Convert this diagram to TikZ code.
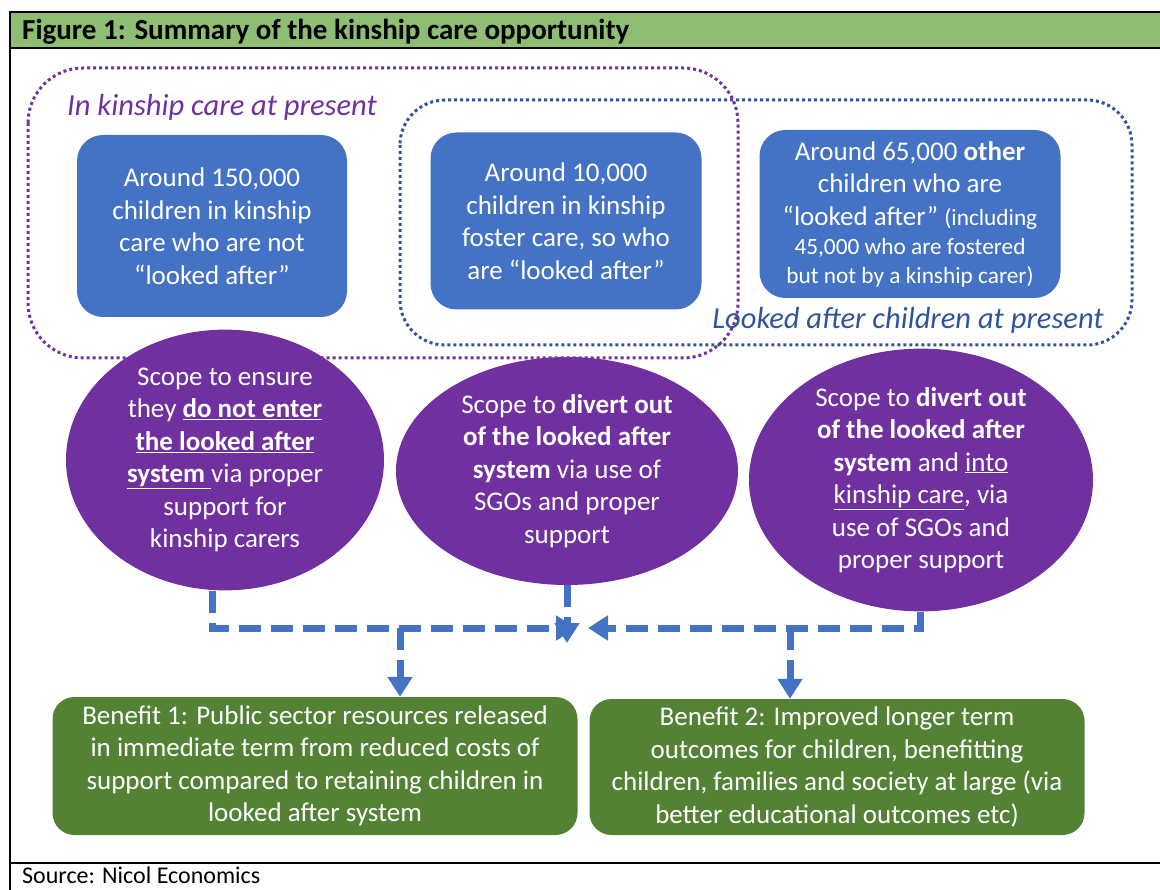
\documentclass[tikz,border=0pt]{standalone}
\usepackage{fontspec}
\setmainfont{Carlito}
\usetikzlibrary{shapes.geometric,arrows.meta}

\definecolor{titlegreen}{RGB}{141,190,116}
\definecolor{boxblue}{RGB}{68,114,196}
\definecolor{darkblue}{RGB}{47,85,151}
\definecolor{scopepurple}{RGB}{112,48,160}
\definecolor{benefitgreen}{RGB}{84,130,53}

\begin{document}
\begin{tikzpicture}[x=1pt, y=-1pt,
  every node/.style = {align=center, text=white, inner sep=0pt,
    font=\fontsize{27}{32.5}\selectfont},
  countbox/.style = {fill=boxblue, rounded corners=26pt},
  scopeoval/.style = {shape=ellipse, fill=scopepurple},
  benefitbox/.style = {fill=benefitgreen, rounded corners=22pt},
  groupframe/.style = {line width=3pt, dash pattern=on 3pt off 3pt,
    rounded corners=#1},
  flow/.style = {draw=boxblue, line width=7pt, dash pattern=on 22pt off 10pt,
    -{Triangle[length=20pt,width=24pt]}}]
  \useasboundingbox (0,0) rectangle (1160,890);

  % table frame
  \fill[titlegreen] (10,12) rectangle (1160,48);
  \draw[line width=2pt] (1160,12) -| (10,890);
  \draw[line width=2pt] (10,48) -- (1160,48);
  \draw[line width=2pt] (10,863) -- (1160,863);
  \node[anchor=base west, text=black, font=\fontsize{29}{32}\selectfont\bfseries]
    (title) at (22,40) {Figure 1: Summary of the kinship care opportunity};
  \node[anchor=base west, text=black, font=\fontsize{24}{28}\selectfont]
    (source) at (22,883) {Source: Nicol Economics};

  % dotted groups
  \draw[groupframe=55pt, scopepurple] (28,68) rectangle (738,358);
  \draw[groupframe=45pt, darkblue] (400,100) rectangle (1132,345);
  \node[text=scopepurple, font=\fontsize{30.5}{34}\selectfont\itshape]
    (kinlabel) at (222,107) {In kinship care at present};
  \node[text=darkblue, font=\fontsize{30.5}{34}\selectfont\itshape]
    (lalabel) at (908,320) {Looked after children at present};

  % children counts
  \node[countbox, minimum width=270pt, minimum height=182pt] (count1) at (212,226)
    {Around 150,000\\ children in kinship\\ care who are not\\ “looked after”};
  \node[countbox, minimum width=271pt, minimum height=177pt] (count2) at (566,221)
    {Around 10,000\\ children in kinship\\ foster care, so who\\ are “looked after”};
  \node[countbox, minimum width=301pt, minimum height=168pt] (count3) at (910,214)
    {Around 65,000 \textbf{other}\\ children who are\\
     “looked after” {\fontsize{23.3}{29}\selectfont(including}\\[-3.5pt]
     {\fontsize{23.3}{29}\selectfont 45,000 who are fostered}\\[-3.5pt]
     {\fontsize{23.3}{29}\selectfont but not by a kinship carer)}};

  % scope
  \node[scopeoval, minimum width=318pt, minimum height=224pt] (scope1) at (225,460)
    {Scope to ensure\\ they \underline{\textbf{do not enter}}\\
     \underline{\textbf{the looked after}}\\ \underline{\textbf{system }}via proper\\
     support for\\ kinship carers};
  \node[scopeoval, minimum width=342pt, minimum height=228pt] (scope2) at (567,471)
    {Scope to \textbf{divert out}\\ \textbf{of the looked after}\\
     \textbf{system} via use of\\ SGOs and proper\\ support};
  \node[scopeoval, minimum width=344pt, minimum height=224pt] (scope3) at (921,480)
    {Scope to \textbf{divert out}\\ \textbf{of the looked after}\\
     \textbf{system} and \underline{into}\\ \underline{kinship care}, via\\
     use of SGOs and\\ proper support};

  % benefits
  \node[benefitbox, minimum width=525pt, minimum height=138pt] (benefit1) at (315,766)
    {Benefit 1: Public sector resources released\\ in immediate term from reduced costs of\\
     support compared to retaining children in\\ looked after system};
  \node[benefitbox, minimum width=495pt, minimum height=136pt] (benefit2) at (837,767)
    {Benefit 2: Improved longer term\\ outcomes for children, benefitting\\
     children, families and society at large (via\\ better educational outcomes etc)};

  % dashed flows
  \coordinate (meetl) at (576,628);
  \coordinate (meetm) at (567,643);
  \coordinate (meetr) at (588,628);
  \coordinate (split1) at (400,628);
  \coordinate (split2) at (790,628);
  \draw[flow] ([xshift=-13pt]scope1.south) |- (meetl);
  \draw[flow] (scope2.south) -- (meetm);
  \draw[flow] ([xshift=-1pt]scope3.south) |- (meetr);
  \draw[flow] (split1) -- (split1 |- benefit1.north);
  \draw[flow] (split2) -- (split2 |- benefit2.north);
\end{tikzpicture}
\end{document}
